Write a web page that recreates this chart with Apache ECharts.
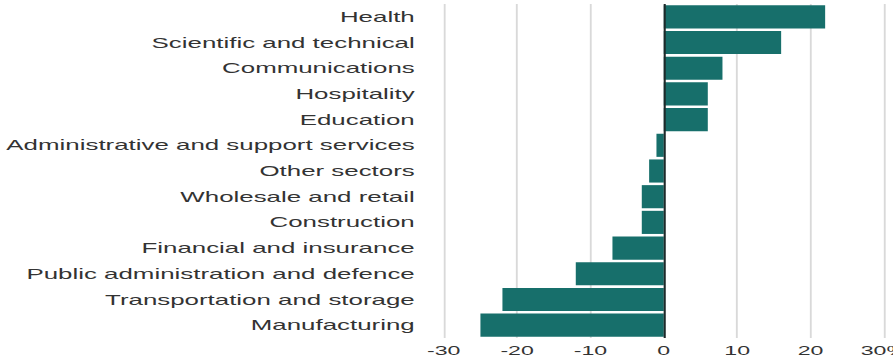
<!DOCTYPE html>
<html>
<head>
<meta charset="utf-8">
<script src="https://cdn.jsdelivr.net/npm/echarts@6/dist/echarts.min.js"></script>
<style>
  html, body { margin: 0; padding: 0; background: #fff; overflow: hidden; }
  /* the source graphic is stretched horizontally; draw narrow and stretch the same way */
  #main { width: 483px; height: 364px; transform: scaleX(1.849); transform-origin: 0 0; }
</style>
</head>
<body>
<div id="main"></div>
<script>
// categories, top to bottom
var industries = [
  'Health',
  'Scientific and technical',
  'Communications',
  'Hospitality',
  'Education',
  'Administrative and support services',
  'Other sectors',
  'Wholesale and retail',
  'Construction',
  'Financial and insurance',
  'Public administration and defence',
  'Transportation and storage',
  'Manufacturing'
];
// % change
var changes = [22, 16, 8, 6, 6, -1, -2, -3, -3, -7, -12, -22, -25];
var xTicks = [-30, -20, -10, 0, 10, 20, 30];

var labelFont = '"Liberation Sans", Arial, Helvetica, sans-serif';

var chart = echarts.init(document.getElementById('main'), null, { renderer: 'svg' });
chart.setOption({
  animation: false,
  grid: { left: 240, right: 5, top: 4, bottom: 26, outerBoundsMode: 'none' },
  xAxis: {
    type: 'value',
    min: xTicks[0],
    max: xTicks[xTicks.length - 1],
    interval: 10,
    axisLine: { show: false },
    axisTick: { show: false },
    splitLine: { lineStyle: { color: '#d9d9d9', width: 1 } },
    axisLabel: {
      margin: 6,
      color: '#333',
      fontFamily: labelFont,
      fontSize: 12.5,
      formatter: function (v) { return v === 30 ? '30%' : String(v); }
    }
  },
  yAxis: {
    type: 'category',
    inverse: true,
    data: industries,
    axisLine: { show: false },
    axisTick: { show: false },
    splitLine: { show: false },
    axisLabel: {
      margin: 15.7,
      color: '#333',
      fontFamily: labelFont,
      fontSize: 14
    }
  },
  series: [{
    type: 'bar',
    data: changes,
    barCategoryGap: '10%',
    itemStyle: { color: '#176f6b' },
    markLine: {
      silent: true,
      symbol: 'none',
      label: { show: false },
      lineStyle: { color: '#1d2a2a', width: 1.1, type: 'solid' },
      data: [{ xAxis: 0 }]
    }
  }]
});
</script>
</body>
</html>
